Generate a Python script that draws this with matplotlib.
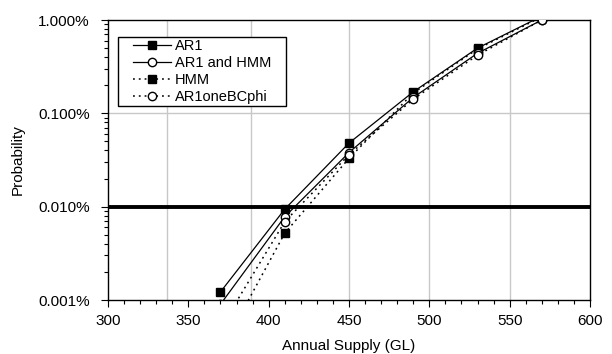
import matplotlib
matplotlib.use("Agg")
import matplotlib.pyplot as plt
from matplotlib.patches import Rectangle
from matplotlib.transforms import IdentityTransform
from matplotlib.ticker import FixedLocator, FuncFormatter, LogLocator, NullFormatter

plt.rcParams['font.family'] = ['Liberation Sans', 'DejaVu Sans']

# annual supply (GL) and exceedance probability (fraction)
supply = [370, 410, 450, 490, 530, 570]
ar1 = [1.22e-5, 9.4e-5, 4.8e-4, 1.70e-3, 5.0e-3, 1.10e-2]
ar1_hmm = [9.0e-6, 7.8e-5, 3.8e-4, 1.48e-3, 4.4e-3, 1.0e-2]
hmm = [2.8e-6, 5.2e-5, 3.3e-4, 1.65e-3, 4.9e-3, 1.08e-2]
ar1_onebc = [5.0e-6, 6.9e-5, 3.6e-4, 1.42e-3, 4.2e-3, 1.0e-2]

threshold = 1e-4
vgrid = [337, 389, 450, 500, 550]
yticks = [1e-5, 1e-4, 1e-3, 1e-2]

fig = plt.figure(figsize=(6.12, 3.54), dpi=100)
ax = fig.add_axes([0.1765, 0.1525, 0.7875, 0.791])

for xv in vgrid:
    ax.axvline(xv, color='#c8c8c8', lw=1.0, zorder=0)
ax.axhline(1e-3, color='#c8c8c8', lw=1.0, zorder=0)
ax.axhline(threshold, color='black', lw=2.8, zorder=1)

dots = (0, (1.2, 2.6))
ax.plot(supply, ar1, '-', color='black', lw=0.9, marker='s', ms=6,
        mfc='black', mec='black', label='AR1', zorder=3)
ax.plot(supply, ar1_hmm, '-', color='black', lw=0.9, marker='o', ms=6,
        mfc='white', mec='black', label='AR1 and HMM', zorder=4)
ax.plot(supply, hmm, linestyle=dots, color='black', lw=1.1, marker='s', ms=6,
        mfc='black', mec='black', label='HMM', zorder=3)
ax.plot(supply, ar1_onebc, linestyle=dots, color='black', lw=1.1, marker='o', ms=6,
        mfc='white', mec='black', label='AR1oneBCphi', zorder=4)

ax.set_yscale('log')
ax.set_ylim(1e-5, 1e-2)
ax.set_xlim(300, 600)
ax.yaxis.set_major_locator(FixedLocator(yticks))
ax.yaxis.set_major_formatter(FuncFormatter(lambda v, p: '{:.3f}%'.format(v * 100)))
ax.yaxis.set_minor_locator(LogLocator(base=10, subs=range(2, 10)))
ax.yaxis.set_minor_formatter(NullFormatter())
ax.xaxis.set_major_locator(FixedLocator(range(300, 601, 50)))
ax.xaxis.set_minor_locator(FixedLocator(range(300, 601, 10)))

ax.tick_params(axis='both', which='major', labelsize=11, direction='out',
               length=5, width=0.8, colors='black')
ax.tick_params(axis='both', which='minor', direction='out', length=3, width=0.8)
ax.tick_params(axis='y', which='major', pad=8)
ax.tick_params(axis='x', which='major', pad=5)

for s in ax.spines.values():
    s.set_linewidth(1.0)
    s.set_color('black')

ax.set_xlabel('Annual Supply (GL)', fontsize=11, labelpad=8)
ax.set_ylabel('Probability', fontsize=11, labelpad=10)

# legend without frame, then a box drawn round it with wider side padding
leg = ax.legend(loc='upper left', bbox_to_anchor=(0.05, 0.936), borderaxespad=0,
                fontsize=10.5, frameon=False, handlelength=2.6,
                handletextpad=0.3, labelspacing=0.22, borderpad=0.05)
fig.canvas.draw()
bb = leg.get_window_extent()
box = Rectangle((bb.x0 - 14, bb.y0 - 1), bb.width + 28, bb.height + 2,
                transform=IdentityTransform(), facecolor='white',
                edgecolor='black', lw=1.0, zorder=4.5)
ax.add_artist(box)
leg.set_zorder(5)

fig.savefig('out.png', dpi=100)
